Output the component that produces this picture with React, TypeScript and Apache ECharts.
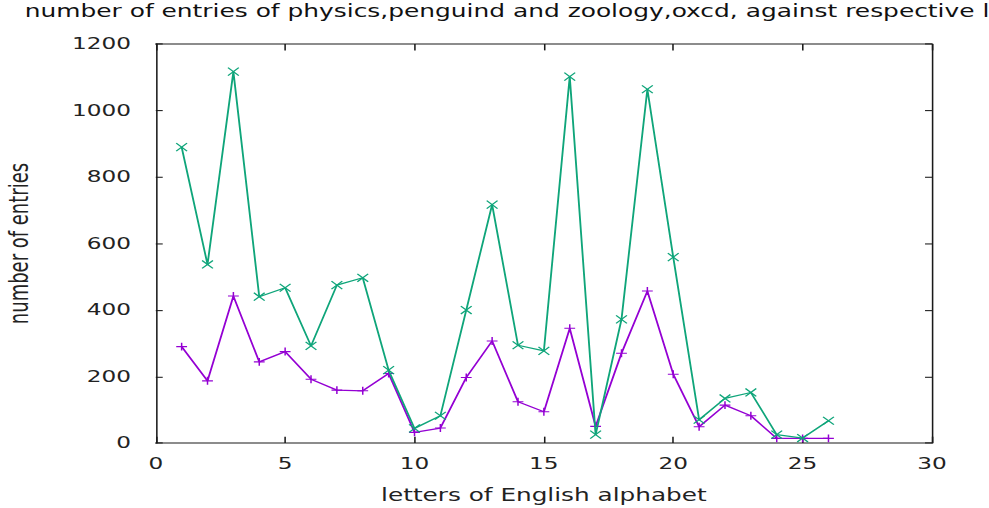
import React, { useEffect, useRef } from "react";
import * as echarts from "echarts";

// the reference shows the title clipped at the right edge of the picture
const titleText =
  "number of entries of physics,penguind and zoology,oxcd, against respective l";
const xAxisName = "letters of English alphabet";
const yAxisName = "number of entries";

const letterIndex = [
  1, 2, 3, 4, 5, 6, 7, 8, 9, 10, 11, 12, 13, 14, 15, 16, 17, 18, 19, 20, 21,
  22, 23, 24, 25, 26,
];
const physicsPenguin = [
  290, 187, 442, 244, 275, 192, 159, 157, 209, 32, 45, 197, 307, 124, 94, 345,
  50, 270, 457, 207, 49, 114, 82, 14, 14, 14,
];
const zoologyOxcd = [
  890, 537, 1117, 440, 467, 292, 475, 497, 219, 44, 82, 400, 717, 294, 277,
  1102, 25, 372, 1064, 559, 70, 134, 152, 25, 15, 67,
];

const FONT = "DejaVu Sans";
const AXIS_COLOR = "#1a1a1a";
const TEXT_COLOR = "#222";
const PURPLE = "#9400d3";
const GREEN = "#0fa57a";

const BASE_W = 640;
const BASE_H = 480;
const SX = 989 / BASE_W;
const SY = 508 / BASE_H;

export default function App() {
  const ref = useRef<HTMLDivElement>(null);

  useEffect(() => {
    document.body.style.margin = "0";
    if (!ref.current) return;
    const chart = echarts.init(ref.current, null, { renderer: "svg" });

    const toPairs = (vals: number[]) => letterIndex.map((x, i) => [x, vals[i]]);

    const axisLine = {
      show: true,
      onZero: false,
      lineStyle: { color: AXIS_COLOR, width: 1 },
    };
    const plain = (v: number) => String(v);

    chart.setOption({
      animation: false,
      backgroundColor: "#ffffff",
      title: {
        text: titleText,
        left: 16,
        top: 2,
        padding: 0,
        textStyle: {
          fontFamily: FONT,
          fontSize: 16.1,
          fontWeight: "normal",
          color: "#111",
        },
      },
      grid: {
        left: 100.8,
        right: 36.9,
        top: 41.6,
        bottom: 61.4,
        containLabel: false,
        outerBoundsMode: "none",
      },
      xAxis: [
        {
          type: "value",
          min: 0,
          max: 30,
          interval: 5,
          position: "bottom",
          name: xAxisName,
          nameLocation: "middle",
          nameGap: 41,
          nameTextStyle: { fontFamily: FONT, fontSize: 16, color: TEXT_COLOR },
          axisLine,
          axisTick: {
            show: true,
            inside: true,
            length: 6,
            lineStyle: { color: AXIS_COLOR },
          },
          axisLabel: {
            margin: 12,
            fontFamily: FONT,
            fontSize: 15,
            color: TEXT_COLOR,
            formatter: plain,
          },
          splitLine: { show: false },
        },
        {
          type: "value",
          min: 0,
          max: 30,
          interval: 5,
          position: "top",
          axisLine,
          axisTick: {
            show: true,
            inside: true,
            length: 6,
            lineStyle: { color: AXIS_COLOR },
          },
          axisLabel: { show: false },
          splitLine: { show: false },
        },
      ],
      yAxis: [
        {
          type: "value",
          min: 0,
          max: 1200,
          interval: 200,
          position: "left",
          name: yAxisName,
          nameLocation: "middle",
          nameGap: 80,
          nameRotate: 90,
          nameTextStyle: { fontFamily: FONT, fontSize: 17, color: TEXT_COLOR },
          axisLine,
          axisTick: {
            show: true,
            inside: true,
            length: 4.5,
            lineStyle: { color: AXIS_COLOR },
          },
          axisLabel: {
            margin: 16,
            fontFamily: FONT,
            fontSize: 15,
            color: TEXT_COLOR,
            formatter: plain,
          },
          splitLine: { show: false },
        },
        {
          type: "value",
          min: 0,
          max: 1200,
          interval: 200,
          position: "right",
          axisLine,
          axisTick: {
            show: true,
            inside: true,
            length: 4.5,
            lineStyle: { color: AXIS_COLOR },
          },
          axisLabel: { show: false },
          splitLine: { show: false },
        },
      ],
      series: [
        {
          name: "physics,penguind",
          type: "line",
          xAxisIndex: 0,
          yAxisIndex: 0,
          data: toPairs(physicsPenguin),
          showAllSymbol: true,
          symbol: "path://M5,0L5,10M0,5L10,5",
          symbolSize: [7, 7.5],
          lineStyle: { color: PURPLE, width: 1.2 },
          itemStyle: { color: PURPLE, borderColor: PURPLE, borderWidth: 1 },
          z: 2,
        },
        {
          name: "zoology,oxcd",
          type: "line",
          xAxisIndex: 0,
          yAxisIndex: 0,
          data: toPairs(zoologyOxcd),
          showAllSymbol: true,
          symbol: "path://M0,0L10,10M10,0L0,10",
          symbolSize: [7, 7.5],
          lineStyle: { color: GREEN, width: 1.2 },
          itemStyle: { color: GREEN, borderColor: GREEN, borderWidth: 1 },
          z: 3,
        },
      ],
    });

    return () => {
      chart.dispose();
    };
  }, []);

  return (
    <div style={{ width: 989, height: 508, overflow: "hidden", background: "#fff" }}>
      <div
        ref={ref}
        style={{
          width: BASE_W,
          height: BASE_H,
          transform: `scale(${SX}, ${SY})`,
          transformOrigin: "0 0",
        }}
      />
    </div>
  );
}
